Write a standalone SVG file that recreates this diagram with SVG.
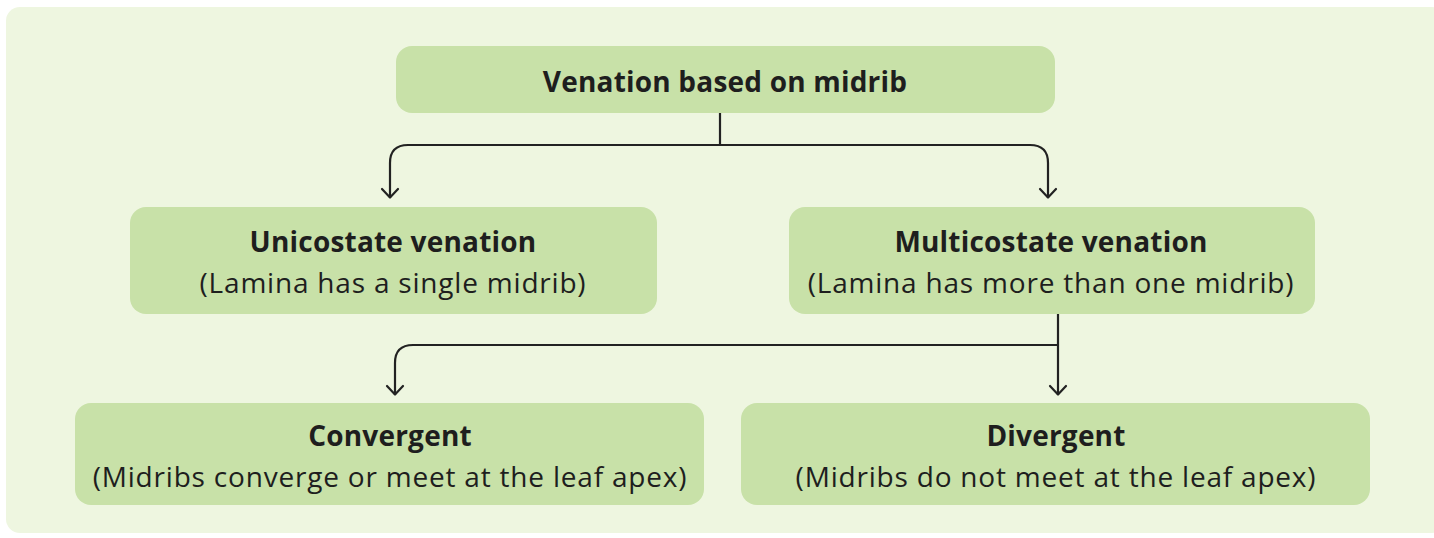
<svg xmlns="http://www.w3.org/2000/svg" width="1434" height="538" viewBox="0 0 1434 538">
  <defs>
    <!-- open chevron arrowhead, drawn pointing along +x -->
    <marker id="arrow" viewBox="0 0 20 20" refX="18" refY="10" markerWidth="20" markerHeight="20" markerUnits="userSpaceOnUse" orient="auto">
      <path d="M9,2 L17.5,10 L9,18" fill="none" stroke="#222" stroke-width="2.2" stroke-linecap="round" stroke-linejoin="round"/>
    </marker>
    <style>
      .panel { fill: #eef6e0; }
      .box { fill: #c8e1a8; }
      .title { font-family: "Open Sans", "Liberation Sans", sans-serif; font-weight: 700; font-size: 28px; letter-spacing: 0.2px; fill: #1e1e1e; text-anchor: middle; }
      .sub { font-family: "Open Sans", "Liberation Sans", sans-serif; font-weight: 400; font-size: 28px; letter-spacing: 0.8px; fill: #1e1e1e; text-anchor: middle; }
      .link { fill: none; stroke: #222; stroke-width: 2.2; }
    </style>
  </defs>

  <rect width="1434" height="538" fill="#ffffff"/>
  <rect class="panel" x="6" y="7" width="1440" height="526" rx="14"/>

  <g id="connectors">
    <path class="link" d="M720,113 V145"/>
    <path class="link" d="M720,145 H408 Q390,145 390,163 V198" marker-end="url(#arrow)"/>
    <path class="link" d="M720,145 H1030 Q1048,145 1048,163 V198" marker-end="url(#arrow)"/>
    <path class="link" d="M1058,314 V395" marker-end="url(#arrow)"/>
    <path class="link" d="M1058,345 H413 Q395,345 395,363 V395" marker-end="url(#arrow)"/>
  </g>

  <g id="node-root">
    <rect class="box" x="396" y="46" width="659" height="67" rx="16"/>
    <text class="title" x="725" y="92">Venation based on midrib</text>
  </g>

  <g id="node-unicostate">
    <rect class="box" x="130" y="207" width="527" height="107" rx="16"/>
    <text class="title" x="393" y="252">Unicostate venation</text>
    <text class="sub" x="393" y="293">(Lamina has a single midrib)</text>
  </g>

  <g id="node-multicostate">
    <rect class="box" x="789" y="207" width="526" height="107" rx="16"/>
    <text class="title" x="1051" y="252">Multicostate venation</text>
    <text class="sub" x="1051" y="293">(Lamina has more than one midrib)</text>
  </g>

  <g id="node-convergent">
    <rect class="box" x="75" y="403" width="629" height="102" rx="16"/>
    <text class="title" x="390" y="446">Convergent</text>
    <text class="sub" x="390" y="487">(Midribs converge or meet at the leaf apex)</text>
  </g>

  <g id="node-divergent">
    <rect class="box" x="741" y="403" width="629" height="102" rx="16"/>
    <text class="title" x="1056" y="446">Divergent</text>
    <text class="sub" x="1056" y="487">(Midribs do not meet at the leaf apex)</text>
  </g>
</svg>
